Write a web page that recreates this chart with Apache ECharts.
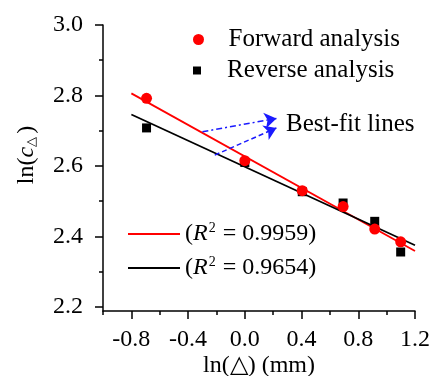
<!DOCTYPE html>
<html>
<head>
<meta charset="utf-8">
<script src="https://cdn.jsdelivr.net/npm/echarts@6/dist/echarts.min.js"></script>
<style>html,body{margin:0;padding:0;background:#fff}#c{width:433px;height:376px}</style>
</head>
<body>
<div id="c"></div>
<script>
// ---- data ----
const xValues = [-0.693, 0.0, 0.405, 0.693, 0.916, 1.099];
const forwardY = [2.792, 2.615, 2.530, 2.485, 2.421, 2.385];
const reverseY = [2.708, 2.610, 2.527, 2.495, 2.443, 2.356];
const fitX = [-0.8, 1.2];
const forwardFitY = [2.806, 2.359];
const reverseFitY = [2.746, 2.375];
const r2Values = ['0.9959', '0.9654'];
const xMajorTicks = [-0.8, -0.4, 0.0, 0.4, 0.8, 1.2];
const xMinorTicks = [-1.0, -0.6, -0.2, 0.2, 0.6, 1.0];
const yMajorTicks = [2.2, 2.4, 2.6, 2.8, 3.0];
const yMinorTicks = [2.3, 2.5, 2.7, 2.9];
// annotation arrows (data space): [start, end]
const arrowDashDot = [[-0.299, 2.697], [0.223, 2.735]];
const arrowDashed = [[-0.212, 2.631], [0.223, 2.708]];

const FONT = '"Liberation Serif", "Times New Roman", serif';
const zip = (xs, ys) => xs.map((x, i) => [x, ys[i]]);

const chart = echarts.init(document.getElementById('c'), null, {renderer: 'canvas'});

const axisLine = {show: true, onZero: false, lineStyle: {color: '#000', width: 1.5}};
const fmt = v => Number(v).toFixed(1);
const SQUARE = 'path://M0,0L10,0L10,10L0,10Z';

const option = {
  animation: false,
  backgroundColor: '#fff',
  grid: {left: 103, right: 18, top: 25, bottom: 65, containLabel: false, outerBoundsMode: 'none'},
  xAxis: [
    {
      type: 'value', min: -1.0, max: 1.2, position: 'bottom',
      axisLine: axisLine,
      splitLine: {show: false},
      axisTick: {show: true, inside: false, length: 8, customValues: xMajorTicks, lineStyle: {color: '#000', width: 1.5}},
      axisLabel: {customValues: xMajorTicks, formatter: fmt, color: '#000', fontFamily: FONT, fontSize: 24, margin: 17},
      name: 'ln(△) (mm)', nameLocation: 'middle', nameGap: 43, nameMoveOverlap: false,
      nameTextStyle: {color: '#000', fontFamily: FONT, fontSize: 24}
    },
    {
      type: 'value', min: -1.0, max: 1.2, position: 'bottom',
      axisLine: {show: false, onZero: false},
      splitLine: {show: false},
      axisTick: {show: true, length: 4, customValues: xMinorTicks, lineStyle: {color: '#000', width: 1.5}},
      axisLabel: {show: false}
    }
  ],
  yAxis: [
    {
      type: 'value', min: 2.1886, max: 3.0, position: 'left',
      axisLine: axisLine,
      splitLine: {show: false},
      axisTick: {show: true, length: 8, customValues: yMajorTicks, lineStyle: {color: '#000', width: 1.5}},
      axisLabel: {customValues: yMajorTicks, formatter: fmt, color: '#000', fontFamily: FONT, fontSize: 24, margin: 20}
    },
    {
      type: 'value', min: 2.1886, max: 3.0, position: 'left',
      axisLine: {show: false, onZero: false},
      splitLine: {show: false},
      axisTick: {show: true, length: 4, customValues: yMinorTicks, lineStyle: {color: '#000', width: 1.5}},
      axisLabel: {show: false}
    }
  ],
  legend: [
    {
      data: [{name: 'Forward analysis', icon: 'circle'}], left: 188, top: 22, itemWidth: 50, itemHeight: 11,
      textStyle: {color: '#000', fontFamily: FONT, fontSize: 25}, selectedMode: false
    },
    {
      data: [{name: 'Reverse analysis', icon: SQUARE}], left: 188, top: 53, itemWidth: 50, itemHeight: 8,
      textStyle: {color: '#000', fontFamily: FONT, fontSize: 25}, selectedMode: false
    },
    {
      data: [{name: 'fitForward', icon: 'rect'}, {name: 'fitReverse', icon: 'rect'}],
      orient: 'vertical', left: 123, top: 216, itemWidth: 52, itemHeight: 2, itemGap: 9,
      selectedMode: false,
      formatter: name => '{p|(}{i|R}{s|2}{p| = ' + (name === 'fitForward' ? r2Values[0] : r2Values[1]) + ')}',
      textStyle: {
        color: '#000', fontFamily: FONT, fontSize: 24,
        rich: {
          p: {fontFamily: FONT, fontSize: 24, color: '#000'},
          i: {fontFamily: FONT, fontSize: 24, fontStyle: 'italic', color: '#000'},
          s: {fontFamily: FONT, fontSize: 14, color: '#000', padding: [0, 1, 12, 1]}
        }
      }
    }
  ],
  graphic: [
    {
      type: 'text', x: 27, y: 155, rotation: Math.PI / 2,
      style: {
        text: '{p|ln(}{i|c}{s|△}{p|)}', align: 'center', verticalAlign: 'middle',
        rich: {
          p: {fontFamily: FONT, fontSize: 24, fill: '#000'},
          i: {fontFamily: FONT, fontSize: 24, fontStyle: 'italic', fill: '#000'},
          s: {fontFamily: FONT, fontSize: 13, fill: '#000', padding: [10, 3, 0, 0]}
        }
      }
    },
    {
      type: 'text', x: 286, y: 124,
      style: {text: 'Best-fit lines', fontFamily: FONT, fontSize: 25, fill: '#000', verticalAlign: 'middle', align: 'left'}
    }
  ],
  series: [
    {
      name: 'fitForward', type: 'line', data: zip(fitX, forwardFitY), symbol: 'none',
      lineStyle: {color: '#ff0000', width: 1.8}, itemStyle: {color: '#ff0000'}, z: 2,
      markLine: {
        silent: true, symbol: ['none', 'arrow'], symbolSize: 12, animation: false,
        label: {show: false},
        data: [
          [{coord: arrowDashDot[0], lineStyle: {color: '#1a1aff', width: 1.5, type: [6, 3, 2, 3]}}, {coord: arrowDashDot[1]}],
          [{coord: arrowDashed[0], lineStyle: {color: '#1a1aff', width: 1.5, type: [5, 3]}}, {coord: arrowDashed[1]}]
        ]
      }
    },
    {
      name: 'fitReverse', type: 'line', data: zip(fitX, reverseFitY), symbol: 'none',
      lineStyle: {color: '#000', width: 1.8}, itemStyle: {color: '#000'}, z: 2
    },
    {
      name: 'Reverse analysis', type: 'scatter', data: zip(xValues, reverseY),
      symbol: 'rect', symbolSize: 9, itemStyle: {color: '#000', opacity: 1}, z: 3
    },
    {
      name: 'Forward analysis', type: 'scatter', data: zip(xValues, forwardY),
      symbol: 'circle', symbolSize: 11, itemStyle: {color: '#ff0000', opacity: 1}, z: 4
    }
  ]
};
chart.setOption(option);
</script>
</body>
</html>
